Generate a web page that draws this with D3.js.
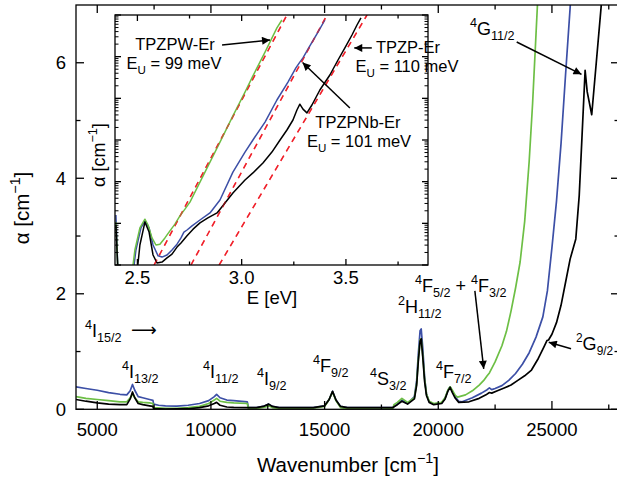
<!DOCTYPE html>
<html><head><meta charset="utf-8">
<script src="https://cdn.jsdelivr.net/npm/d3@7"></script>
<style>
body{margin:0;background:#fff}
svg{font-family:"Liberation Sans",Arial,Helvetica,sans-serif}
text{white-space:pre}
</style>
</head><body>
<svg id="c" width="617" height="479"></svg>
<script>
// ---------------- main plot data (wavenumber cm^-1, alpha cm^-1) ----------------
const waveBlue = [4065,4500,5000,5500,6000,6300,6450,6550,6650,6800,7000,7300,7450,7480,7700,8000,8500,9000,9500,9900,10150,10250,10400,10700,11000,11600,11650,12000,12300,12540,12700,13000,14500,15000,15200,15350,15500,15700,16000,18000,18200,18400,18650,18950,19050,19120,19200,19250,19320,19400,19480,19600,19800,20150,20300,20430,20520,20620,20750,20900,21050,21500,21900,22150,22250,22350,22500,22800,23100,23400,23700,24000,24300,24600,24800,25000,25200,25400,25600,25800,25850];
const alphaBlue = [0.39,0.36,0.33,0.29,0.26,0.25,0.32,0.43,0.33,0.22,0.20,0.17,0.155,0.09,0.07,0.06,0.055,0.07,0.10,0.15,0.22,0.26,0.20,0.16,0.15,0.13,0.03,0.03,0.05,0.09,0.05,0.03,0.03,0.06,0.17,0.31,0.16,0.05,0.03,0.03,0.09,0.16,0.10,0.22,0.50,0.95,1.36,1.39,1.05,0.55,0.27,0.13,0.09,0.11,0.19,0.33,0.39,0.31,0.21,0.14,0.13,0.20,0.28,0.34,0.37,0.34,0.36,0.41,0.50,0.62,0.78,0.98,1.25,1.60,2.05,2.80,3.60,4.60,5.80,6.95,7.30];

const waveGreen = [4065,4500,5000,5500,6000,6300,6450,6550,6650,6800,7000,7300,7450,7480,8000,8500,9000,9500,9900,10150,10250,10400,10700,11000,11600,11650,12000,12400,12540,12700,13000,14500,15000,15200,15350,15500,15700,16000,17500,18000,18050,18200,18400,18650,18950,19050,19120,19200,19250,19320,19400,19480,19600,19800,20150,20300,20430,20520,20620,20750,20850,21200,21500,21800,22000,22150,22250,22500,22800,23000,23200,23400,23600,23800,24000,24150,24300,24400];
const alphaGreen = [0.22,0.19,0.17,0.15,0.13,0.13,0.20,0.26,0.20,0.13,0.12,0.11,0.10,0.03,0.015,0.015,0.03,0.05,0.10,0.16,0.19,0.14,0.12,0.11,0.10,0.01,0.01,0.04,0.06,0.03,0.015,0.02,0.05,0.17,0.30,0.15,0.03,0.01,0.005,0.01,0.08,0.12,0.19,0.12,0.20,0.45,0.85,1.20,1.22,0.92,0.52,0.27,0.14,0.10,0.12,0.20,0.34,0.39,0.33,0.24,0.21,0.25,0.32,0.42,0.50,0.58,0.63,0.82,1.10,1.35,1.70,2.10,2.55,3.25,4.30,5.30,6.50,7.30];

const waveBlack = [4065,4500,5000,5500,6000,6300,6450,6550,6650,6800,7000,7300,7450,7480,8000,9000,9500,9900,10150,10250,10400,10700,11000,11650,12000,12300,12540,12700,13000,14500,15000,15200,15350,15500,15700,16000,18000,18200,18400,18650,18950,19050,19120,19200,19250,19320,19400,19480,19600,19800,20150,20300,20430,20520,20620,20750,20900,21350,21800,22100,22250,22350,22600,22900,23200,23500,23800,24100,24400,24650,24780,24850,25000,25200,25400,25600,25800,26050,26200,26320,26460,26550,26750,26950,27160,27220];
const alphaBlack = [0.17,0.14,0.11,0.09,0.08,0.08,0.18,0.30,0.20,0.10,0.08,0.06,0.05,0.01,0.005,0.01,0.03,0.06,0.10,0.12,0.07,0.04,0.035,0.03,0.03,0.05,0.09,0.05,0.03,0.03,0.06,0.17,0.31,0.16,0.05,0.03,0.03,0.08,0.14,0.09,0.18,0.42,0.82,1.18,1.22,0.90,0.48,0.24,0.12,0.08,0.10,0.18,0.32,0.38,0.29,0.19,0.12,0.13,0.19,0.25,0.29,0.28,0.32,0.37,0.42,0.50,0.58,0.68,0.88,1.08,1.19,1.20,1.30,1.50,1.80,2.20,2.60,2.95,3.70,4.70,5.87,5.50,5.10,6.00,6.95,7.30];

const mainXMajor = [5000,10000,15000,20000,25000];
const mainXMinor = [7500,12500,17500,22500,27500];
const mainYMajor = [0,2,4,6];
const mainYMinor = [1,3,5];

// ---------------- inset data (photon energy eV, log10 alpha) ----------------
const insetEGreen = [2.397,2.407,2.474,2.488,2.512,2.536,2.551,2.570,2.589,2.608,2.632,2.656,2.680,2.704,2.728,2.752,2.800,2.848,2.896,2.958,3.016,3.054,3.112,3.169,3.193];
const insetLogGreen = [-0.97,-2.2,-2.2,-1.64,-1.11,-0.90,-1.04,-1.35,-1.52,-1.50,-1.35,-1.18,-1.02,-0.82,-0.66,-0.49,-0.01,0.47,0.95,1.58,2.15,2.54,3.11,3.69,3.88];

const insetEBlue = [2.397,2.407,2.479,2.493,2.517,2.536,2.556,2.575,2.599,2.618,2.642,2.666,2.690,2.709,2.723,2.738,2.762,2.800,2.848,2.896,2.958,3.016,3.054,3.112,3.169,3.222,3.260,3.279,3.294,3.327,3.366,3.399];
const insetLogBlue = [-0.80,-2.2,-2.2,-1.64,-1.11,-0.94,-1.11,-1.52,-1.78,-1.81,-1.76,-1.64,-1.50,-1.35,-1.21,-1.16,-1.06,-0.92,-0.75,-0.44,0.23,0.71,1.00,1.43,1.96,2.39,2.73,2.87,2.97,3.26,3.59,3.88];

const insetEBlack = [2.397,2.407,2.498,2.512,2.536,2.556,2.575,2.594,2.618,2.642,2.666,2.690,2.709,2.738,2.767,2.800,2.838,2.882,2.920,2.958,3.016,3.054,3.102,3.145,3.184,3.217,3.246,3.265,3.279,3.294,3.313,3.337,3.375,3.423,3.462,3.495,3.529,3.553,3.572];
const insetLogBlack = [-1.04,-2.2,-2.2,-1.52,-0.97,-1.21,-1.76,-1.95,-1.93,-1.83,-1.74,-1.57,-1.47,-1.30,-1.14,-0.99,-0.87,-0.75,-0.51,-0.27,0.04,0.21,0.45,0.71,1.00,1.24,1.48,1.72,1.86,1.74,1.65,1.84,2.20,2.56,2.92,3.21,3.52,3.76,3.93];

// Urbach fits (straight lines, two end points each)
const fitEGreen = [2.580,3.217], fitLogGreen = [-2.0,4.0];
const fitEBlue  = [2.757,3.404], fitLogBlue  = [-2.0,3.95];
const fitEBlack = [2.892,3.601], fitLogBlack = [-2.0,4.0];

const insetXMajor = [2.5,3.0,3.5];
const insetXMinor = [2.75,3.25,3.75];
const insetYMajor = [-2,-1,0,1,2,3,4];
const insetYMinorFactors = [2,3,4,5,6,7,8,9];

// ---------------- drawing ----------------
const svg = d3.select('#c');
const GREEN = '#6dbf45', BLUE = '#3c4fa6', BLACK = '#000', RED = '#f0202a';

const mx = d3.scaleLinear().domain([4065,27950]).range([76,619]);
const my = d3.scaleLinear().domain([0,7]).range([409.3,5]);

svg.append('defs').html(`
  <clipPath id="mclip"><rect x="76" y="5" width="543" height="404.3"/></clipPath>
  <clipPath id="iclip"><rect x="115" y="15" width="313" height="250"/></clipPath>
  <marker id="ah" viewBox="0 0 10 10" refX="10" refY="5" markerWidth="11" markerHeight="8" markerUnits="userSpaceOnUse" orient="auto">
    <path d="M0,0 L10,5 L0,10 z" fill="#000"/></marker>`);

function rich(g, x, y, parts, size, anchor, subScale) {
  const ss = subScale || 0.70;
  const t = g.append('text').attr('x', x).attr('y', y).attr('font-size', size)
    .attr('text-anchor', anchor || 'start').attr('fill', '#000');
  let cur = 0;
  for (const [s, k] of parts) {
    const off = k === 'sup' ? -size * 0.42 : k === 'sub' ? size * 0.30 : 0;
    const fsz = k === 'main' ? size : size * ss;
    t.append('tspan').attr('dy', off - cur).attr('font-size', fsz).text(s);
    cur = off;
  }
  return t;
}

// main curves
const mline = (W, A) => d3.line().x((d, i) => mx(W[i])).y((d, i) => my(A[i]))(W);
const mg = svg.append('g').attr('clip-path', 'url(#mclip)');
[[waveBlue, alphaBlue, BLUE], [waveGreen, alphaGreen, GREEN], [waveBlack, alphaBlack, BLACK]].forEach(([W, A, c]) => {
  mg.append('path').attr('d', mline(W, A)).attr('fill', 'none').attr('stroke', c).attr('stroke-width', 1.7).attr('stroke-linejoin', 'round');
});

// main frame and ticks
const fr = svg.append('g').attr('stroke', '#000').attr('stroke-width', 1.3);
fr.append('rect').attr('x', 76).attr('y', 5).attr('width', 543).attr('height', 404.3).attr('fill', 'none');
mainXMajor.forEach(v => { fr.append('line').attr('x1', mx(v)).attr('x2', mx(v)).attr('y1', 409.3).attr('y2', 401); fr.append('line').attr('x1', mx(v)).attr('x2', mx(v)).attr('y1', 5).attr('y2', 13); });
mainXMinor.forEach(v => { fr.append('line').attr('x1', mx(v)).attr('x2', mx(v)).attr('y1', 409.3).attr('y2', 404.5); fr.append('line').attr('x1', mx(v)).attr('x2', mx(v)).attr('y1', 5).attr('y2', 9.5); });
mainYMajor.forEach(v => { fr.append('line').attr('x1', 76).attr('x2', 84).attr('y1', my(v)).attr('y2', my(v)); fr.append('line').attr('x1', 619).attr('x2', 611).attr('y1', my(v)).attr('y2', my(v)); });
mainYMinor.forEach(v => { fr.append('line').attr('x1', 76).attr('x2', 80.5).attr('y1', my(v)).attr('y2', my(v)); fr.append('line').attr('x1', 619).attr('x2', 614.5).attr('y1', my(v)).attr('y2', my(v)); });

const tl = svg.append('g').attr('font-size', 18.5).attr('fill', '#000');
mainXMajor.forEach(v => tl.append('text').attr('x', mx(v)).attr('y', 436).attr('text-anchor', 'middle').text(v));
mainYMajor.forEach(v => tl.append('text').attr('x', 66).attr('y', my(v) + 6.5).attr('text-anchor', 'end').text(v));

rich(svg, 348, 472, [['Wavenumber [cm', 'main'], ['\u22121', 'sup'], [']', 'main']], 20.5, 'middle');
rich(svg.append('g').attr('transform', 'translate(29,208) rotate(-90)'), 0, 0, [['\u03b1 [cm', 'main'], ['\u22121', 'sup'], [']', 'main']], 20.5, 'middle');

// transition labels
const lab = svg.append('g');
const i15 = rich(lab, 85, 337, [['4', 'sup'], ['I', 'main'], ['15/2', 'sub']], 18);
lab.append('text').attr('x', 131).attr('y', 336).attr('font-size', 18).attr('font-family', 'DejaVu Sans').text('\u27f6');
rich(lab, 122, 378, [['4', 'sup'], ['I', 'main'], ['13/2', 'sub']], 18);
rich(lab, 203, 378, [['4', 'sup'], ['I', 'main'], ['11/2', 'sub']], 18);
rich(lab, 257, 385, [['4', 'sup'], ['I', 'main'], ['9/2', 'sub']], 18);
rich(lab, 313, 372, [['4', 'sup'], ['F', 'main'], ['9/2', 'sub']], 18);
rich(lab, 370, 385, [['4', 'sup'], ['S', 'main'], ['3/2', 'sub']], 18);
rich(lab, 398, 313, [['2', 'sup'], ['H', 'main'], ['11/2', 'sub']], 18);
rich(lab, 436, 378, [['4', 'sup'], ['F', 'main'], ['7/2', 'sub']], 18);
rich(lab, 415, 292, [['4', 'sup'], ['F', 'main'], ['5/2', 'sub'], [' + ', 'main'], ['4', 'sup'], ['F', 'main'], ['3/2', 'sub']], 18);
rich(lab, 470, 35, [['4', 'sup'], ['G', 'main'], ['11/2', 'sub']], 18);
rich(lab, 576, 350, [['2', 'sup'], ['G', 'main'], ['9/2', 'sub']], 18, 'start', 0.66);

// main arrows (data coordinates)
const arrowsMain = [[[23450, 6.36], [26300, 5.80]], [[25840, 1.05], [24860, 1.16]], [[21610, 2.05], [22000, 0.70]]];
arrowsMain.forEach(([a, b]) => svg.append('line').attr('x1', mx(a[0])).attr('y1', my(a[1])).attr('x2', mx(b[0])).attr('y2', my(b[1]))
  .attr('stroke', '#000').attr('stroke-width', 1.5).attr('marker-end', 'url(#ah)'));

// ---------------- inset ----------------
const ix = d3.scaleLinear().domain([2.3926, 3.8935]).range([115, 428]);
const iy = d3.scaleLinear().domain([-2, 4]).range([265, 15]);
svg.append('rect').attr('x', 115).attr('y', 15).attr('width', 313).attr('height', 250).attr('fill', '#fff');
const ig = svg.append('g').attr('clip-path', 'url(#iclip)');
const iline = (E, L) => d3.line().x((d, i) => ix(E[i])).y((d, i) => iy(L[i]))(E);
[[fitEGreen, fitLogGreen], [fitEBlue, fitLogBlue], [fitEBlack, fitLogBlack]].forEach(([E, L]) => {
  ig.append('path').attr('d', iline(E, L)).attr('fill', 'none').attr('stroke', RED).attr('stroke-width', 1.5).attr('stroke-dasharray', '6,5');
});
[[insetEBlue, insetLogBlue, BLUE], [insetEGreen, insetLogGreen, GREEN], [insetEBlack, insetLogBlack, BLACK]].forEach(([E, L, c]) => {
  ig.append('path').attr('d', iline(E, L)).attr('fill', 'none').attr('stroke', c).attr('stroke-width', 1.5).attr('stroke-linejoin', 'round');
});
[[fitEGreen, fitLogGreen], [fitEBlue, fitLogBlue], [fitEBlack, fitLogBlack]].forEach(([E, L]) => {
  ig.append('path').attr('d', iline(E, L)).attr('fill', 'none').attr('stroke', RED).attr('stroke-width', 1.3).attr('stroke-dasharray', '6,5').attr('opacity', 0.55);
});

const ifr = svg.append('g').attr('stroke', '#000').attr('stroke-width', 1.3);
ifr.append('rect').attr('x', 115).attr('y', 15).attr('width', 313).attr('height', 250).attr('fill', 'none');
insetXMajor.forEach(v => { ifr.append('line').attr('x1', ix(v)).attr('x2', ix(v)).attr('y1', 265).attr('y2', 259); ifr.append('line').attr('x1', ix(v)).attr('x2', ix(v)).attr('y1', 15).attr('y2', 21); });
insetXMinor.forEach(v => { ifr.append('line').attr('x1', ix(v)).attr('x2', ix(v)).attr('y1', 265).attr('y2', 261.5); ifr.append('line').attr('x1', ix(v)).attr('x2', ix(v)).attr('y1', 15).attr('y2', 18.5); });
insetYMajor.forEach(v => { ifr.append('line').attr('x1', 115).attr('x2', 121).attr('y1', iy(v)).attr('y2', iy(v)); ifr.append('line').attr('x1', 428).attr('x2', 422).attr('y1', iy(v)).attr('y2', iy(v)); });
insetYMajor.slice(0, -1).forEach(n => insetYMinorFactors.forEach(k => {
  const v = n + Math.log10(k);
  ifr.append('line').attr('x1', 115).attr('x2', 118.5).attr('y1', iy(v)).attr('y2', iy(v)).attr('stroke-width', 1);
  ifr.append('line').attr('x1', 428).attr('x2', 424.5).attr('y1', iy(v)).attr('y2', iy(v)).attr('stroke-width', 1);
}));
const itl = svg.append('g').attr('font-size', 18.5).attr('fill', '#000');
insetXMajor.forEach(v => itl.append('text').attr('x', ix(v)).attr('y', 284).attr('text-anchor', 'middle').text(d3.format('.1f')(v)));
itl.append('text').attr('x', 272).attr('y', 304).attr('text-anchor', 'middle').text('E [eV]');
rich(svg.append('g').attr('transform', 'translate(105,155) rotate(-90)'), 0, 0, [['\u03b1 [cm', 'main'], ['\u22121', 'sup'], [']', 'main']], 18, 'middle');

// inset annotations
rich(svg, 175, 50, [['TPZPW-Er', 'main']], 16.5, 'middle');
rich(svg, 174, 69, [['E', 'main'], ['U', 'sub'], [' = 99 meV', 'main']], 16.5, 'middle');
rich(svg, 408, 53, [['TPZP-Er', 'main']], 16.5, 'middle');
rich(svg, 407, 72, [['E', 'main'], ['U', 'sub'], [' = 110 meV', 'main']], 16.5, 'middle');
rich(svg, 358, 128, [['TPZPNb-Er', 'main']], 16.5, 'middle');
rich(svg, 359, 147, [['E', 'main'], ['U', 'sub'], [' = 101 meV', 'main']], 16.5, 'middle');
const arrowsInset = [[[2.906, 3.28], [3.136, 3.40]], [[3.624, 3.21], [3.540, 3.21]], [[3.519, 1.77], [3.292, 2.86]]];
arrowsInset.forEach(([a, b]) => svg.append('line').attr('x1', ix(a[0])).attr('y1', iy(a[1])).attr('x2', ix(b[0])).attr('y2', iy(b[1]))
  .attr('stroke', '#000').attr('stroke-width', 1.5).attr('marker-end', 'url(#ah)'));
</script>
</body></html>
